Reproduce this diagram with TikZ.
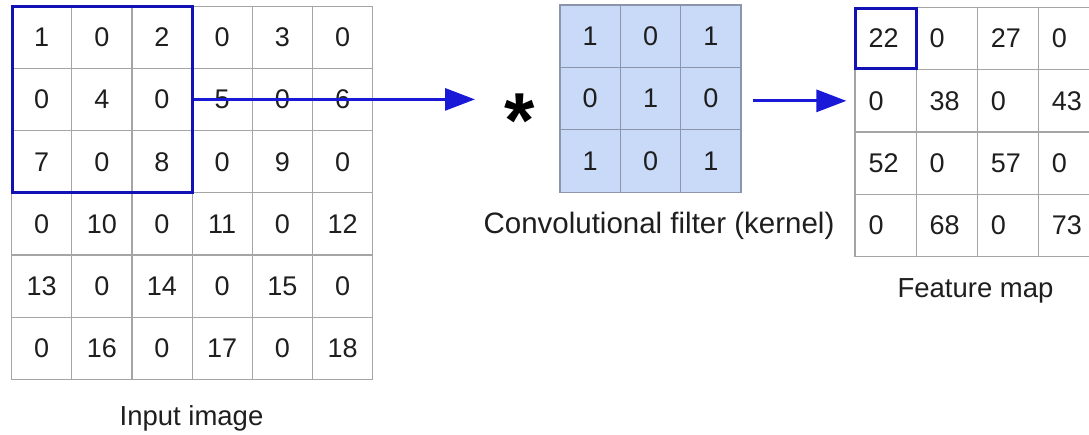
\documentclass[tikz,border=0pt]{standalone}
\usepackage{fontspec}
\setmainfont{Liberation Sans}
\usetikzlibrary{arrows.meta}
\definecolor{winblue}{RGB}{18,18,180}
\definecolor{arrblue}{RGB}{25,25,215}
\definecolor{gridgray}{RGB}{165,165,165}
\definecolor{kfill}{RGB}{201,218,248}
\definecolor{kline}{RGB}{140,150,170}
\definecolor{numcol}{RGB}{30,30,30}
\begin{document}
\begin{tikzpicture}[x=1pt,y=-1pt,
  incell/.style={draw=gridgray, line width=1.2pt, minimum width=60.2pt, minimum height=62.13pt, inner sep=0pt, font=\fontsize{27}{27}\selectfont, text=numcol},
  kcell/.style={draw=kline, fill=kfill, line width=1.2pt, minimum width=60.33pt, minimum height=62.43pt, inner sep=0pt, font=\fontsize{27}{27}\selectfont, text=numcol},
  fcell/.style={draw=gridgray, line width=1.2pt, minimum width=61.1pt, minimum height=62.35pt, inner sep=0pt},
  fnum/.style={inner sep=0pt, anchor=west, font=\fontsize{27}{27}\selectfont, text=numcol},
  lbl/.style={inner sep=0pt, anchor=base, font=\fontsize{27.5}{27.5}\selectfont, text=numcol},
  winbox/.style={draw=winblue, line width=3pt, inner sep=0pt},
  arr/.style={draw=arrblue, line width=3pt, -{Triangle[length=30pt,width=22pt]}}
]
\useasboundingbox (0,0) rectangle (1089,434);
\clip (0,0) rectangle (1089,434);
% input image
\foreach \row [count=\r from 0] in {{1,0,2,0,3,0},{0,4,0,5,0,6},{7,0,8,0,9,0},{0,10,0,11,0,12},{13,0,14,0,15,0},{0,16,0,17,0,18}} {
  \foreach \v [count=\c from 0] in \row {
    \node[incell] (in-\r-\c) at ({41.6+60.2*\c},{37.57+62.13*\r}) {\v};
  }
}
% kernel
\foreach \row [count=\r from 0] in {{1,0,1},{0,1,0},{1,0,1}} {
  \foreach \v [count=\c from 0] in \row {
    \node[kcell] (k-\r-\c) at ({590.17+60.33*\c},{36.2+62.43*\r}) {\v};
  }
}
% feature map
\foreach \row [count=\r from 0] in {{22,0,27,0},{0,38,0,43},{52,0,57,0},{0,68,0,73}} {
  \foreach \v [count=\c from 0] in \row {
    \node[fcell] (f-\r-\c) at ({885.55+61.1*\c},{38.5+62.35*\r}) {};
    \node[fnum] (ft-\r-\c) at ([xshift=14pt]f-\r-\c.west) {\v};
  }
}
% windows
\node[winbox, minimum width=180pt, minimum height=185.8pt] (win) at (102,99.4) {};
\node[winbox, minimum width=61.1pt, minimum height=60pt] (fwin) at (f-0-0) {};
% asterisk
\node[inner sep=0pt, anchor=base, font=\bfseries\fontsize{78}{78}\selectfont] (star) at (520,147) {*};
% arrows
\coordinate (a1end) at (475,99.4);
\draw[arr] (win.east) -- (a1end);
\coordinate (a2start) at ([xshift=11pt]k-1-2.east);
\coordinate (a2end) at ([xshift=-8pt]f-1-0.west);
\draw[arr] (a2start |- a2end) -- (a2end);
% labels
\node[lbl] (linput) at (191.5,425) {Input image};
\node[lbl, font=\fontsize{29.5}{29.5}\selectfont] (lkernel) at (659,233) {Convolutional filter (kernel)};
\node[lbl] (lfeat) at (975.5,297) {Feature map};
\end{tikzpicture}
\end{document}
